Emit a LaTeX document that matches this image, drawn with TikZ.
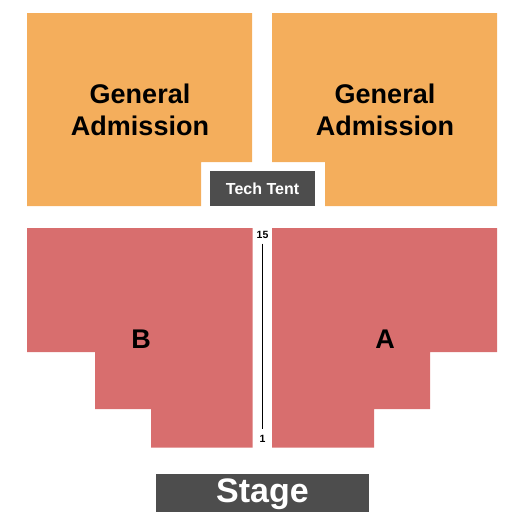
\documentclass[tikz,border=0pt]{standalone}
\usepackage{fontspec}
\setmainfont{Liberation Sans}
\definecolor{ga}{HTML}{F4AE5C}
\definecolor{sec}{HTML}{D86E6E}
\definecolor{dk}{HTML}{4D4D4D}
\begin{document}
\begin{tikzpicture}[x=1pt,y=-1pt,
  lbl/.style={font=\bfseries, align=center, inner sep=0pt},
  gabox/.style={fill=ga},
  secbox/.style={fill=sec},
  dkbox/.style={fill=dk}]
\useasboundingbox (0,0) rectangle (525,525);
% General admission areas
\fill[gabox] (27,13) -- (252,13) -- (252,162) -- (201,162) -- (201,206) -- (27,206) -- cycle;
\fill[gabox] (272,13) -- (497,13) -- (497,206) -- (325,206) -- (325,162) -- (272,162) -- cycle;
\node[lbl, font=\fontsize{27}{32}\selectfont\bfseries] (gal) at (140,110) {General\\Admission};
\node[lbl, font=\fontsize{27}{32}\selectfont\bfseries] (gar) at (385,110) {General\\Admission};
% Tech tent
\fill[dkbox] (210,171) rectangle (315,206);
\node[lbl, text=white, font=\fontsize{16}{18}\selectfont\bfseries] (tt) at (262.5,188.5) {Tech Tent};
% Sections
\fill[secbox] (27,228) -- (252.5,228) -- (252.5,447.5) -- (151,447.5) -- (151,409) -- (95,409) -- (95,352) -- (27,352) -- cycle;
\fill[secbox] (272,228) -- (497,228) -- (497,352) -- (430,352) -- (430,409) -- (374,409) -- (374,447.5) -- (272,447.5) -- cycle;
\node[lbl, font=\fontsize{27}{30}\selectfont\bfseries] (b) at (141,339) {B};
\node[lbl, font=\fontsize{27}{30}\selectfont\bfseries] (a) at (385,339) {A};
% row line
\node[lbl, font=\fontsize{10.5}{12}\selectfont\bfseries] (r15) at (262.5,235) {15};
\node[lbl, font=\fontsize{10.5}{12}\selectfont\bfseries] (r1) at (262.5,439) {1};
\coordinate (lt) at (262.5,243.5);
\coordinate (lb) at (262.5,429);
\draw[line width=1.2pt] (lt) -- (lb);
% Stage
\fill[dkbox] (156,474) rectangle (369,512);
\node[lbl, text=white, font=\fontsize{34}{38}\selectfont\bfseries] (st) at (262.5,494) {Stage};
\end{tikzpicture}
\end{document}
